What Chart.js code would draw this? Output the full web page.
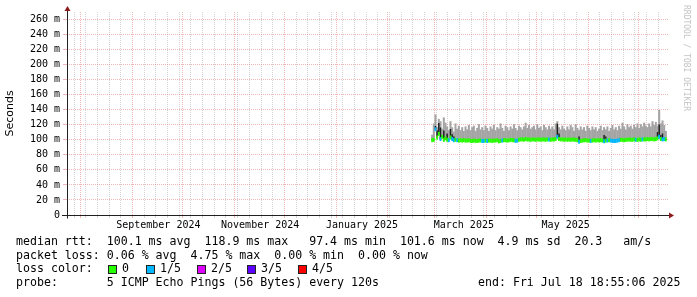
<!DOCTYPE html>
<html>
<head>
<meta charset="utf-8">
<script src="https://cdn.jsdelivr.net/npm/chart.js@4.4.1/dist/chart.umd.min.js"></script>
<style>
  html, body { margin: 0; padding: 0; background: #fff; }
  #wrap { position: relative; width: 697px; height: 297px; overflow: hidden; background: #fff; }
  #smoke { position: absolute; left: 0; top: 0; }
  .txt { position: absolute; font-family: "DejaVu Sans Mono", monospace; font-size: 11.6px; line-height: 13.7px; white-space: pre; color: #000; }
  .box { position: absolute; top: 265px; width: 7px; height: 7px; border: 1px solid #222; }
  #credit { position: absolute; left: 691px; top: 5px; transform-origin: 0 0; transform: rotate(90deg);
            font-family: "DejaVu Sans Mono", monospace; font-size: 8px; line-height: 10px; color: #c4c4c4; white-space: pre; }
</style>
</head>
<body>
<div id="wrap">
  <canvas id="smoke" width="697" height="297"></canvas>
  <div id="credit">RRDTOOL / TOBI OETIKER</div>
  <div class="txt" style="left:16px;top:235px">median rtt:  100.1 ms avg  118.9 ms max   97.4 ms min  101.6 ms now  4.9 ms sd  20.3   am/s</div>
  <div class="txt" style="left:16px;top:248.7px">packet loss: 0.06 % avg  4.75 % max  0.00 % min  0.00 % now</div>
  <div class="txt" style="left:16px;top:262.4px">loss color:</div>
  <div id="lossLegend"></div>
  <div class="txt" style="left:16px;top:276.1px">probe:       5 ICMP Echo Pings (56 Bytes) every 120s</div>
  <div class="txt" style="left:478px;top:276.1px">end: Fri Jul 18 18:55:06 2025</div>
</div>
<script>
// one value per day, starting 2025-02-27
const smokeHigh = [
  106, 121, 133, 116, 127, 124, 114, 129, 122, 117,
  112, 124, 116, 110, 121, 114, 118, 112, 116, 111,
  117, 113, 119, 112, 116, 118, 111, 115, 120, 113,
  116, 112, 118, 115, 111, 117, 114, 119, 112, 116,
  114, 121, 115, 111, 118, 116, 112, 117, 114, 120,
  115, 112, 118, 116, 113, 117, 122, 115, 119, 114,
  116, 118, 113, 120, 115, 117, 112, 119, 116, 113,
  118, 114, 117, 113, 121, 124, 116, 113, 118, 114,
  112, 117, 113, 119, 116, 111, 120, 115, 112, 117,
  113, 116, 111, 118, 115, 112, 117, 113, 116, 111,
  114, 118, 112, 116, 113, 117, 111, 115, 119, 113,
  116, 112, 118, 114, 122, 117, 113, 120, 116, 118,
  114, 119, 116, 121, 115, 120, 117, 122, 118, 116,
  121, 117, 124, 119, 123, 118, 139, 121, 125, 119, 111
];

const darkTop = [
  0, 0, 118, 112, 122, 116, 106, 112, 0, 108,
  0, 114, 107, 104, 0, 0, 0, 0, 0, 0,
  0, 0, 0, 0, 0, 0, 0, 0, 0, 0,
  0, 0, 0, 0, 0, 0, 0, 0, 0, 0,
  0, 0, 0, 0, 0, 0, 0, 0, 0, 0,
  0, 0, 0, 0, 0, 0, 0, 0, 0, 0,
  0, 0, 0, 0, 0, 0, 0, 0, 0, 0,
  0, 0, 0, 0, 0, 121, 108, 0, 0, 0,
  0, 0, 0, 0, 0, 0, 0, 0, 104, 0,
  0, 0, 0, 0, 0, 0, 0, 0, 0, 0,
  0, 0, 0, 106, 104, 0, 0, 0, 0, 0,
  0, 0, 0, 0, 0, 0, 0, 0, 0, 0,
  0, 0, 0, 0, 0, 0, 0, 0, 0, 0,
  0, 0, 0, 0, 0, 110, 120, 106, 108, 0, 0
];

const median = [
  99.5, 100, 114, 103, 108, 101, 104, 100, 102, 100,
  99.5, 103, 101, 99.5, 100, 99.5, 99, 99.5, 99, 99.5,
  99, 99, 99.5, 98.5, 98.5, 99, 98.5, 98.5, 99, 99,
  98.5, 98.5, 99, 98.5, 99, 99, 98.5, 99, 99, 99.5,
  98, 98.5, 99, 99.5, 99.5, 99, 99.5, 100, 99.5, 99.5,
  98.5, 99, 100, 100.5, 100.5, 100, 101, 100.5, 100.5, 100,
  100.5, 100.5, 100, 100.5, 100.5, 100, 100.5, 100.5, 100, 100.5,
  100.5, 100, 100.5, 100.5, 101, 104, 101, 100.5, 100.5, 100,
  100.5, 100, 100.5, 100, 100.5, 100, 100, 99.5, 97.5, 98.5,
  99, 99.5, 99.5, 99, 99, 98.5, 99, 99.5, 99, 99.5,
  99, 99.5, 99, 98, 99, 99, 99.5, 99, 98.5, 98.5,
  98.5, 99, 99.5, 100, 100, 99.5, 100, 100, 100.5, 100,
  100, 100.5, 100, 100, 100.5, 100, 100.5, 100.5, 100.5, 101,
  100.5, 101, 101, 100.5, 101, 102, 104, 101, 100.5, 101, 100.5
];

// lost pings out of 5 per day
const loss = [
  0, 0, 1, 0, 0, 1, 0, 0, 0, 0,
  1, 0, 1, 1, 0, 1, 0, 0, 0, 0,
  0, 0, 0, 0, 0, 0, 0, 0, 0, 0,
  1, 1, 0, 1, 0, 0, 0, 0, 0, 0,
  0, 0, 1, 0, 0, 0, 0, 0, 0, 0,
  1, 1, 0, 0, 0, 0, 0, 0, 0, 0,
  0, 0, 0, 0, 0, 0, 0, 0, 0, 0,
  1, 0, 0, 0, 0, 1, 0, 0, 0, 0,
  0, 0, 0, 0, 0, 0, 0, 0, 1, 0,
  0, 0, 0, 0, 0, 1, 0, 0, 0, 0,
  0, 0, 0, 1, 0, 1, 0, 1, 1, 1,
  1, 1, 1, 0, 0, 0, 0, 0, 0, 0,
  0, 0, 1, 0, 0, 0, 1, 0, 0, 0,
  0, 0, 0, 0, 0, 0, 1, 0, 1, 1, 0
];

const lossLabels = ['0', '1/5', '2/5', '3/5', '4/5'];
const lossColors = ['#26ff00', '#00b8ff', '#dd00ff', '#5e00ff', '#ff0000'];

const xLabels = ['September 2024', 'November 2024', 'January 2025', 'March 2025', 'May 2025'];
const xLabelDates = [[2024, 8, 16], [2024, 10, 16], [2025, 0, 16], [2025, 2, 18], [2025, 4, 18]];

const DAY = 86400000;
const endTime = Date.UTC(2025, 6, 18, 18, 55, 6);
const startTime = endTime - 360 * DAY;
const firstDay = Date.UTC(2025, 1, 27, 12);
const toX = t => (t - startTime) / DAY;

// legend boxes
const boxLeft = [108, 146, 197, 247, 298];
const legend = document.getElementById('lossLegend');
lossLabels.forEach((lab, i) => {
  const b = document.createElement('div');
  b.className = 'box';
  b.style.left = boxLeft[i] + 'px';
  b.style.background = lossColors[i];
  legend.appendChild(b);
  const t = document.createElement('div');
  t.className = 'txt';
  t.style.left = (boxLeft[i] + 14) + 'px';
  t.style.top = '262.4px';
  t.textContent = lab;
  legend.appendChild(t);
});

// x ticks: weeks (sundays), month starts, and month labels (at noon so they never collide)
const xTicks = [];
const tickKind = new Map();
const tickText = new Map();
for (let t = Date.UTC(2024, 6, 24); t < endTime; t += DAY) {
  const d = new Date(t);
  if (d.getUTCDate() === 1) { xTicks.push(toX(t)); tickKind.set(toX(t), 'month'); }
  else if (d.getUTCDay() === 0) { xTicks.push(toX(t)); tickKind.set(toX(t), 'week'); }
}
xLabelDates.forEach((d, i) => {
  const v = toX(Date.UTC(d[0], d[1], d[2], 12));
  xTicks.push(v); tickKind.set(v, 'label'); tickText.set(v, xLabels[i]);
});
xTicks.sort((a, b) => a - b);

const MAJOR = 'rgba(225, 110, 110, 0.5)';
const MINOR = 'rgba(160, 160, 160, 0.45)';
const NONE = 'rgba(0,0,0,0)';

const xs = median.map((m, i) => toX(firstDay + i * DAY));

const axisArrows = {
  id: 'axisArrows',
  afterDraw(chart) {
    const { ctx, chartArea: a } = chart;
    const l = Math.round(a.left) + 0.5, b = Math.round(a.bottom) + 0.5;
    ctx.save();
    ctx.strokeStyle = '#202020';
    ctx.lineWidth = 1;
    ctx.beginPath();
    ctx.moveTo(62, b); ctx.lineTo(a.right + 2, b);
    ctx.moveTo(l, b + 3); ctx.lineTo(l, a.top - 3);
    ctx.stroke();
    ctx.fillStyle = '#8c1c1c';
    ctx.beginPath();
    ctx.moveTo(a.right + 6, b); ctx.lineTo(a.right + 1, b - 3); ctx.lineTo(a.right + 1, b + 3);
    ctx.fill();
    ctx.beginPath();
    ctx.moveTo(l, a.top - 6); ctx.lineTo(l - 3, a.top - 1); ctx.lineTo(l + 3, a.top - 1);
    ctx.fill();
    ctx.restore();
  }
};

new Chart('smoke', {
  type: 'bar',
  data: {
    datasets: [
      {
        label: 'smoke',
        data: xs.map((x, i) => ({ x: x, y: [median[i], smokeHigh[i]] })),
        backgroundColor: '#a4a4a4',
        grouped: false,
        order: 3,
        barPercentage: 1,
        categoryPercentage: 1,
        inflateAmount: 0.6,
      },
      {
        label: 'dense',
        data: xs.map((x, i) => ({ x: x, y: [median[i], darkTop[i]] })).filter((p, i) => darkTop[i] > 0),
        backgroundColor: '#202020',
        grouped: false,
        order: 2,
        barPercentage: 1,
        categoryPercentage: 1,
      },
      {
        label: 'median rtt',
        data: xs.map((x, i) => ({ x: x, y: [median[i] - 2, median[i] + 2] })),
        backgroundColor: loss.map(l => lossColors[l]),
        grouped: false,
        order: 1,
        barPercentage: 1,
        categoryPercentage: 1,
        inflateAmount: 0.5,
      },
    ],
  },
  options: {
    responsive: false,
    maintainAspectRatio: false,
    animation: false,
    layout: { padding: { top: 12, right: 29, left: 0, bottom: 0 } },
    plugins: { legend: { display: false }, tooltip: { enabled: false } },
    scales: {
      x: {
        type: 'linear',
        min: 0,
        max: 360,
        offset: false,
        afterFit: s => { s.height = 82; },
        afterBuildTicks: s => { s.ticks = xTicks.map(v => ({ value: v })); },
        grid: {
          offset: false,
          lineWidth: 1,
          tickLength: 3,
          color: ctx => {
            const k = tickKind.get(ctx.tick && ctx.tick.value);
            return k === 'month' ? MAJOR : k === 'week' ? MINOR : NONE;
          },
          tickColor: ctx => {
            const k = tickKind.get(ctx.tick && ctx.tick.value);
            return k === 'month' ? MAJOR : k === 'week' ? MINOR : NONE;
          },
        },
        border: { display: false, dash: [1, 1] },
        ticks: {
          autoSkip: false,
          maxRotation: 0,
          padding: 1,
          color: '#000',
          font: { family: 'DejaVu Sans Mono', size: 10 },
          callback: v => tickText.get(v) || '',
        },
      },
      y: {
        min: 0,
        max: 270,
        afterFit: s => { s.width = 67; },
        title: {
          display: true,
          text: 'Seconds',
          color: '#000',
          font: { family: 'DejaVu Sans', size: 11 },
          padding: { top: 4, bottom: 0 },
        },
        grid: {
          lineWidth: 1,
          tickLength: 4,
          color: ctx => (ctx.tick.value % 20 === 0 ? MAJOR : MINOR),
          tickColor: ctx => (ctx.tick.value % 20 === 0 ? MAJOR : NONE),
        },
        border: { display: false, dash: [1, 1] },
        ticks: {
          stepSize: 10,
          padding: 3,
          color: '#000',
          font: { family: 'DejaVu Sans Mono', size: 10 },
          callback: v => (v % 20 === 0 && v < 270 ? (v === 0 ? '0' : v + ' m') : ''),
        },
      },
    },
  },
  plugins: [axisArrows],
});
</script>
</body>
</html>
